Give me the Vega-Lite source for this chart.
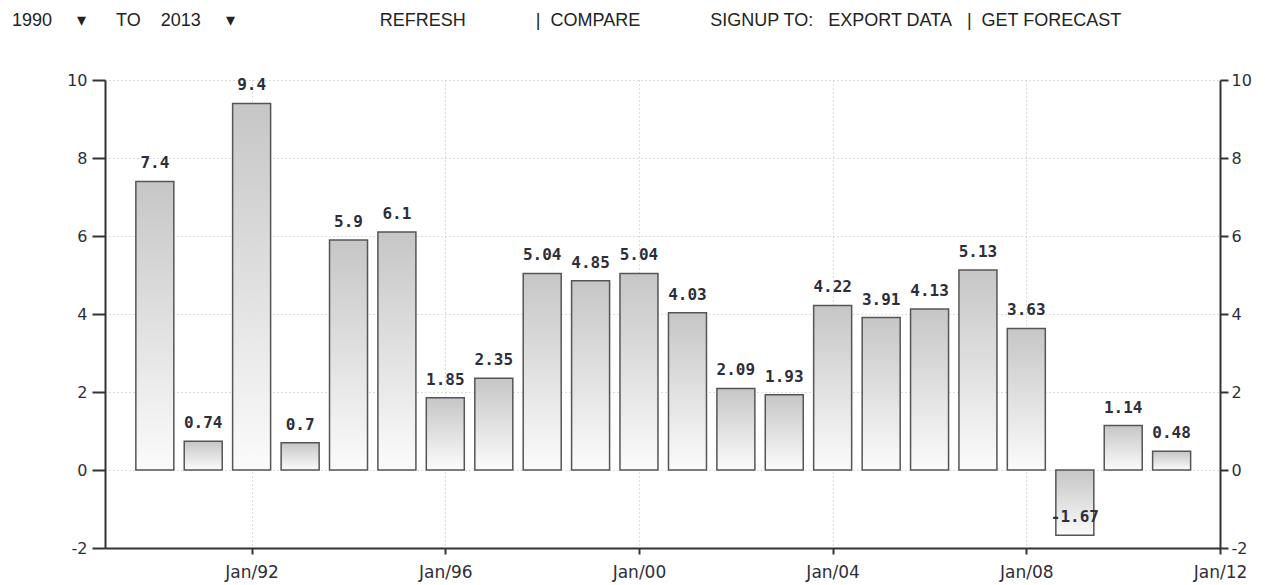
{
  "$schema": "https://vega.github.io/schema/vega-lite/v6.json",
  "width": 1115,
  "height": 468,
  "autosize": {"type": "none"},
  "padding": {"left": 105, "top": 80, "right": 45, "bottom": 37},
  "background": "white",
  "title": {
    "text": "1990\u00a0\u00a0\u00a0\u00a0\u00a0▾\u00a0\u00a0\u00a0\u00a0\u00a0\u00a0TO\u00a0\u00a0\u00a0\u00a02013\u00a0\u00a0\u00a0\u00a0\u00a0▾\u00a0\u00a0\u00a0\u00a0\u00a0\u00a0\u00a0\u00a0\u00a0\u00a0\u00a0\u00a0\u00a0\u00a0\u00a0\u00a0\u00a0\u00a0\u00a0\u00a0\u00a0\u00a0\u00a0\u00a0\u00a0\u00a0\u00a0\u00a0\u00a0REFRESH\u00a0\u00a0\u00a0\u00a0\u00a0\u00a0\u00a0\u00a0\u00a0\u00a0\u00a0\u00a0\u00a0\u00a0|\u00a0\u00a0COMPARE\u00a0\u00a0\u00a0\u00a0\u00a0\u00a0\u00a0\u00a0\u00a0\u00a0\u00a0\u00a0\u00a0\u00a0SIGNUP TO:\u00a0\u00a0\u00a0EXPORT DATA\u00a0\u00a0\u00a0|\u00a0\u00a0GET FORECAST",
    "anchor": "start",
    "frame": "group",
    "dx": -93,
    "offset": 42,
    "font": "Liberation Sans",
    "fontSize": 18,
    "fontWeight": "normal",
    "color": "#222"
  },
  "data": {
    "values": [
      {"date": "1990-01-01", "v": 7.4},
      {"date": "1991-01-01", "v": 0.74},
      {"date": "1992-01-01", "v": 9.4},
      {"date": "1993-01-01", "v": 0.7},
      {"date": "1994-01-01", "v": 5.9},
      {"date": "1995-01-01", "v": 6.1},
      {"date": "1996-01-01", "v": 1.85},
      {"date": "1997-01-01", "v": 2.35},
      {"date": "1998-01-01", "v": 5.04},
      {"date": "1999-01-01", "v": 4.85},
      {"date": "2000-01-01", "v": 5.04},
      {"date": "2001-01-01", "v": 4.03},
      {"date": "2002-01-01", "v": 2.09},
      {"date": "2003-01-01", "v": 1.93},
      {"date": "2004-01-01", "v": 4.22},
      {"date": "2005-01-01", "v": 3.91},
      {"date": "2006-01-01", "v": 4.13},
      {"date": "2007-01-01", "v": 5.13},
      {"date": "2008-01-01", "v": 3.63},
      {"date": "2009-01-01", "v": -1.67},
      {"date": "2010-01-01", "v": 1.14},
      {"date": "2011-01-01", "v": 0.48}
    ]
  },
  "encoding": {
    "x": {
      "field": "date",
      "type": "temporal",
      "scale": {"domain": ["1988-12-21", "2012-01-01"], "padding": 0},
      "axis": {
        "title": null,
        "format": "%b/%y",
        "values": ["1992-01-01", "1996-01-01", "2000-01-01", "2004-01-01", "2008-01-01", "2012-01-01"],
        "labelFlush": false,
        "labelBound": false,
        "labelOverlap": false,
        "grid": true,
        "gridDash": [1, 3],
        "gridColor": "#bbbbbb",
        "domainColor": "#333",
        "domainWidth": 2,
        "tickColor": "#333",
        "tickWidth": 2,
        "tickSize": 6,
        "labelFont": "DejaVu Sans",
        "labelFontSize": 17,
        "labelColor": "#2e2e3a",
        "labelPadding": 10
      }
    }
  },
  "layer": [
    {
      "mark": {
        "type": "bar",
        "size": 38,
        "stroke": "#555",
        "strokeWidth": 1.5,
        "color": {
          "gradient": "linear",
          "x1": 0, "y1": 0, "x2": 0, "y2": 1,
          "stops": [
            {"offset": 0, "color": "#c6c6c6"},
            {"offset": 1, "color": "#fbfbfb"}
          ]
        }
      },
      "encoding": {
        "y": {
          "field": "v",
          "type": "quantitative",
          "scale": {"domain": [-2, 10], "nice": false, "zero": false},
          "axis": {
            "title": null,
            "orient": "left",
            "values": [-2, 0, 2, 4, 6, 8, 10],
            "labelExpr": "replace(datum.label, '−', '-')",
            "grid": true,
            "gridDash": [1, 3],
            "gridColor": "#bbbbbb",
            "domainColor": "#333",
            "domainWidth": 2,
            "tickColor": "#333",
            "tickWidth": 2,
            "tickSize": 13,
            "labelFont": "DejaVu Sans",
            "labelFontSize": 16,
            "labelColor": "#2e2e3a",
            "labelPadding": 5
          }
        }
      }
    },
    {
      "mark": {
        "type": "text",
        "baseline": "bottom",
        "dy": -10,
        "font": "DejaVu Sans Mono",
        "fontSize": 16,
        "fontWeight": "bold",
        "color": "#2e2e3a"
      },
      "encoding": {
        "y": {
          "field": "v",
          "type": "quantitative",
          "axis": {
            "title": null,
            "orient": "right",
            "values": [-2, 0, 2, 4, 6, 8, 10],
            "labelExpr": "replace(datum.label, '−', '-')",
            "grid": false,
            "domainColor": "#333",
            "domainWidth": 2,
            "tickColor": "#333",
            "tickWidth": 2,
            "tickSize": 8,
            "labelFont": "DejaVu Sans",
            "labelFontSize": 16,
            "labelColor": "#2e2e3a",
            "labelPadding": 3
          }
        },
        "text": {"field": "v", "type": "nominal"}
      }
    }
  ],
  "resolve": {"axis": {"y": "independent"}},
  "config": {"view": {"stroke": null}}
}
